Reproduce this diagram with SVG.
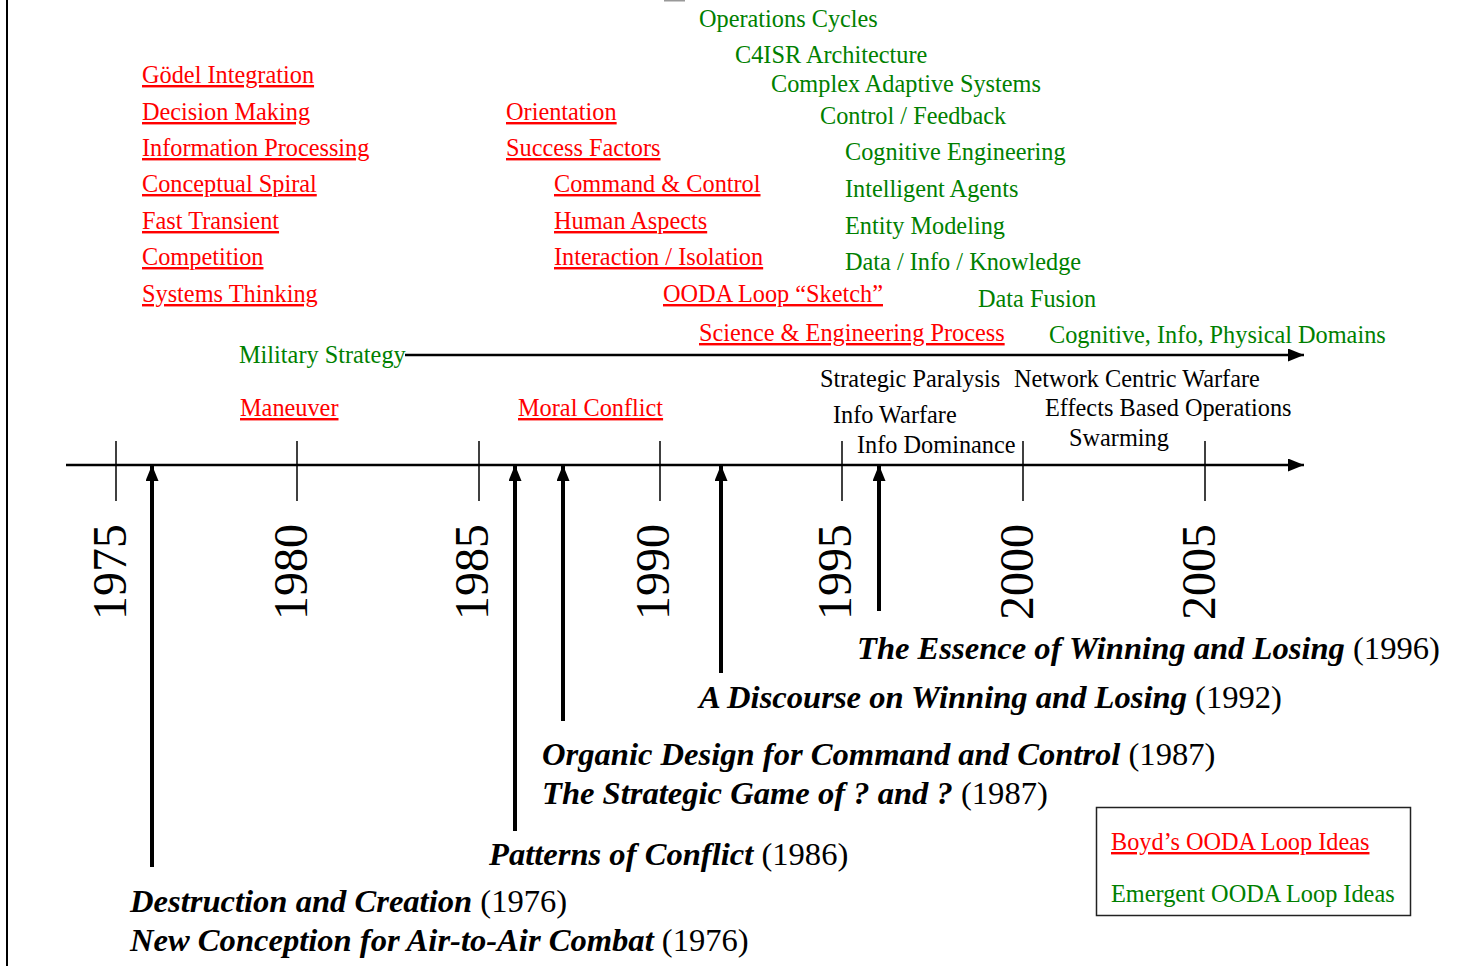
<svg xmlns="http://www.w3.org/2000/svg" width="1459" height="966" viewBox="0 0 1459 966">
<style>
text { font-family: "Liberation Serif", "Times New Roman", serif; font-size: 24.3px; }
.red { fill: #ff0000; text-decoration: underline; }
.grn { fill: #008000; }
.blk { fill: #000000; }
.year { font-size: 48px; fill: #000; }
.title { font-size: 32.6px; fill: #000; }
.bi { font-weight: bold; font-style: italic; }
.tick { stroke: #000; stroke-width: 1.5; }
.axis { stroke: #000; stroke-width: 2.6; fill: none; }
.varrow { stroke: #000; stroke-width: 4; fill: none; }
</style>
<defs>
<marker id="ah" markerUnits="userSpaceOnUse" markerWidth="17" markerHeight="14" refX="16" refY="6.5" orient="auto">
<path d="M0,0 L16,6.5 L0,13 z" fill="#000"/>
</marker>
</defs>
<rect x="0" y="0" width="1459" height="966" fill="#fff"/>
<line x1="7" y1="0" x2="7" y2="966" stroke="#000" stroke-width="2"/>
<rect x="664" y="0" width="21" height="1.5" fill="#999"/>

<g id="boyd-ideas">
<text class="red" x="142" y="83">Gödel Integration</text>
<text class="red" x="142" y="120">Decision Making</text>
<text class="red" x="142" y="156">Information Processing</text>
<text class="red" x="142" y="192">Conceptual Spiral</text>
<text class="red" x="142" y="229">Fast Transient</text>
<text class="red" x="142" y="265">Competition</text>
<text class="red" x="142" y="302">Systems Thinking</text>
<text class="red" x="506" y="120">Orientation</text>
<text class="red" x="506" y="156">Success Factors</text>
<text class="red" x="554" y="192">Command &amp; Control</text>
<text class="red" x="554" y="229">Human Aspects</text>
<text class="red" x="554" y="265">Interaction / Isolation</text>
<text class="red" x="663" y="302">OODA Loop “Sketch”</text>
<text class="red" x="699" y="341">Science &amp; Engineering Process</text>
<text class="red" x="240" y="416">Maneuver</text>
<text class="red" x="518" y="416">Moral Conflict</text>
</g>

<g id="emergent-ideas">
<text class="grn" x="699" y="27">Operations Cycles</text>
<text class="grn" x="735" y="63">C4ISR Architecture</text>
<text class="grn" x="771" y="92">Complex Adaptive Systems</text>
<text class="grn" x="820" y="124">Control / Feedback</text>
<text class="grn" x="845" y="160">Cognitive Engineering</text>
<text class="grn" x="845" y="197">Intelligent Agents</text>
<text class="grn" x="845" y="234">Entity Modeling</text>
<text class="grn" x="845" y="270">Data / Info / Knowledge</text>
<text class="grn" x="978" y="307">Data Fusion</text>
<text class="grn" x="1049" y="343">Cognitive, Info, Physical Domains</text>
<text class="grn" x="239" y="363">Military Strategy</text>
</g>

<g id="concepts">
<text class="blk" x="820" y="387">Strategic Paralysis</text>
<text class="blk" x="1014" y="387">Network Centric Warfare</text>
<text class="blk" x="833" y="423">Info Warfare</text>
<text class="blk" x="1045" y="416">Effects Based Operations</text>
<text class="blk" x="857" y="453">Info Dominance</text>
<text class="blk" x="1069" y="446">Swarming</text>
</g>

<g id="years">
<text class="year" text-anchor="middle" transform="translate(126,572) rotate(-90)">1975</text>
<text class="year" text-anchor="middle" transform="translate(307,572) rotate(-90)">1980</text>
<text class="year" text-anchor="middle" transform="translate(488,572) rotate(-90)">1985</text>
<text class="year" text-anchor="middle" transform="translate(669,572) rotate(-90)">1990</text>
<text class="year" text-anchor="middle" transform="translate(851,572) rotate(-90)">1995</text>
<text class="year" text-anchor="middle" transform="translate(1033,572) rotate(-90)">2000</text>
<text class="year" text-anchor="middle" transform="translate(1215,572) rotate(-90)">2005</text>
</g>

<g id="connectors">
<line class="axis" x1="405" y1="355" x2="1304" y2="355" marker-end="url(#ah)"/>
<line class="axis" x1="66" y1="465" x2="1304" y2="465" marker-end="url(#ah)"/>
<line class="tick" x1="116" y1="441" x2="116" y2="501"/>
<line class="tick" x1="297" y1="441" x2="297" y2="501"/>
<line class="tick" x1="479" y1="441" x2="479" y2="501"/>
<line class="tick" x1="660" y1="441" x2="660" y2="501"/>
<line class="tick" x1="842" y1="441" x2="842" y2="501"/>
<line class="tick" x1="1023" y1="441" x2="1023" y2="501"/>
<line class="tick" x1="1205" y1="441" x2="1205" y2="501"/>
<line class="varrow" x1="152" y1="867" x2="152" y2="465" marker-end="url(#ah)"/>
<line class="varrow" x1="515" y1="831" x2="515" y2="465" marker-end="url(#ah)"/>
<line class="varrow" x1="563" y1="721" x2="563" y2="465" marker-end="url(#ah)"/>
<line class="varrow" x1="721" y1="673" x2="721" y2="465" marker-end="url(#ah)"/>
<line class="varrow" x1="879" y1="611" x2="879" y2="465" marker-end="url(#ah)"/>
</g>

<g id="works">
<text class="title" x="857" y="659"><tspan class="bi">The Essence of Winning and Losing</tspan> (1996)</text>
<text class="title" x="699" y="708"><tspan class="bi">A Discourse on Winning and Losing</tspan> (1992)</text>
<text class="title" x="542" y="765"><tspan class="bi">Organic Design for Command and Control</tspan> (1987)</text>
<text class="title" x="542" y="804"><tspan class="bi">The Strategic Game of ? and ?</tspan> (1987)</text>
<text class="title" x="489" y="865"><tspan class="bi">Patterns of Conflict</tspan> (1986)</text>
<text class="title" x="130" y="912"><tspan class="bi">Destruction and Creation</tspan> (1976)</text>
<text class="title" x="130" y="951"><tspan class="bi">New Conception for Air-to-Air Combat</tspan> (1976)</text>
</g>

<g id="legend">
<rect x="1096.5" y="807.5" width="314" height="108" fill="none" stroke="#222" stroke-width="1.5"/>
<text class="red" x="1111" y="850">Boyd’s OODA Loop Ideas</text>
<text class="grn" x="1111" y="902">Emergent OODA Loop Ideas</text>
</g>
</svg>
